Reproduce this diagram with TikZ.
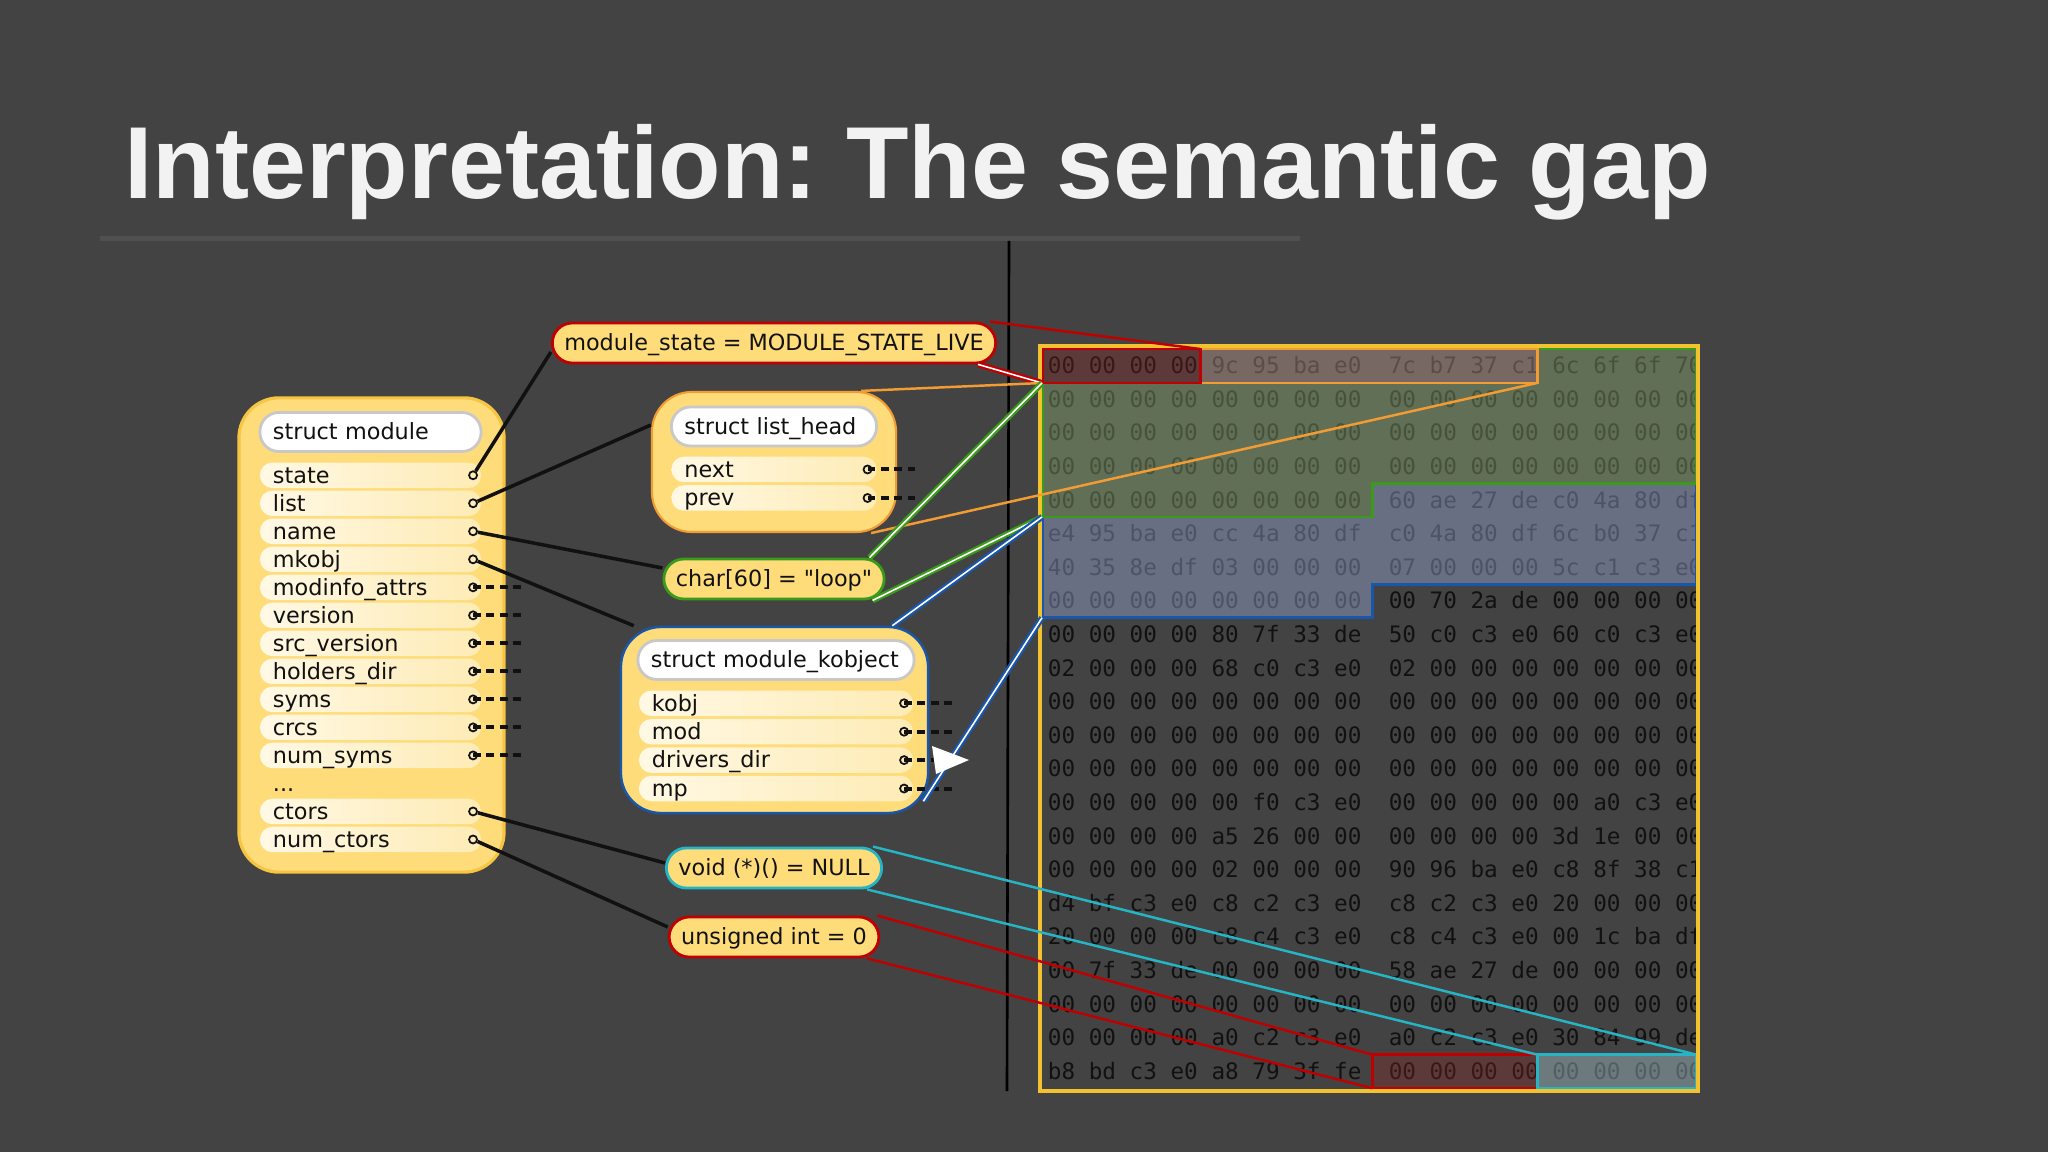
\documentclass[tikz,border=0pt]{standalone}
\usepackage{fontspec}
\setmainfont{DejaVu Sans}[Ligatures=TeXOff]
\setmonofont{DejaVu Sans Mono}
\newfontfamily\titlefont{Liberation Sans}
\usetikzlibrary{positioning}

\definecolor{slidebg}{RGB}{67,67,67}
\definecolor{titlegray}{RGB}{242,242,242}
\definecolor{ruleline}{RGB}{80,80,80}
\definecolor{boxyellow}{RGB}{255,220,122}
\definecolor{boxedge}{RGB}{246,198,66}
\definecolor{pillleft}{RGB}{255,248,228}
\definecolor{pillright}{RGB}{254,236,182}
\definecolor{headedge}{RGB}{200,200,200}
\definecolor{inkblack}{RGB}{17,17,17}
\definecolor{hexred}{RGB}{192,0,0}
\definecolor{hexorange}{RGB}{243,156,52}
\definecolor{hexgreen}{RGB}{58,154,26}
\definecolor{hexblue}{RGB}{26,86,170}
\definecolor{hexcyan}{RGB}{38,181,197}
\definecolor{hexframe}{RGB}{242,194,48}
\definecolor{tintred}{RGB}{150,40,40}
\definecolor{tintorange}{RGB}{185,150,140}
\definecolor{tintgreen}{RGB}{135,165,110}
\definecolor{tintblue}{RGB}{150,165,210}
\definecolor{tintcyan}{RGB}{160,190,200}

\newcommand\fieldfont{\fontsize{6.35pt}{7.5pt}\selectfont}
\newcommand\hexfont{\ttfamily\fontsize{6.44pt}{7.5pt}\selectfont}

\tikzset{
  titletext/.style={
    anchor=base west,
    inner sep=0pt,
    text=titlegray,
    font=\titlefont\bfseries\fontsize{29.1pt}{35pt}\selectfont
  },
  structbox/.style={
    fill=boxyellow,
    line width=0.9pt,
    rounded corners=0.4cm,
    inner sep=0pt
  },
  headpill/.style={
    draw=headedge,
    fill=white,
    line width=0.8pt,
    rounded corners=0.19cm,
    align=left,
    text width=#1,
    minimum height=0.39cm,
    inner xsep=0.13cm,
    inner ysep=0pt,
    outer sep=0pt,
    text height=0.2cm,
    text depth=0.045cm,
    font=\fieldfont,
    text=inkblack
  },
  fieldtext/.style={
    align=left,
    text width=#1,
    inner xsep=0.13cm,
    inner ysep=0.005cm,
    outer sep=0pt,
    text height=0.2cm,
    text depth=0.045cm,
    font=\fieldfont,
    text=inkblack
  },
  fieldpill/.style={
    fieldtext=#1,
    left color=pillleft,
    right color=pillright,
    rounded corners=0.125cm
  },
  valpill/.style={
    fill=boxyellow,
    line width=0.8pt,
    rounded corners=0.2cm,
    minimum height=0.4cm,
    inner xsep=0.12cm,
    inner ysep=0pt,
    text height=0.2cm,
    text depth=0.045cm,
    font=\fieldfont,
    text=inkblack
  },
  port/.style={
    circle,
    draw=inkblack,
    fill=pillright,
    line width=0.5pt,
    inner sep=0pt,
    minimum size=0.08cm
  },
  stub/.style={
    draw=inkblack,
    line width=1.15pt,
    dash pattern=on 2.2pt off 1.6pt
  },
  link/.style={
    draw=inkblack,
    line width=1pt
  },
  thinlink/.style={
    line width=0.7pt
  },
  dlink/.style={
    double=white,
    line width=0.62pt,
    double distance=0.45pt
  },
  hexrow/.style={
    anchor=base west,
    inner sep=0pt,
    text=inkblack,
    font=\hexfont
  },
  region/.style={
    line width=0.85pt,
    fill opacity=0.45
  }
}

\begin{document}
\begin{tikzpicture}[x=0.01cm, y=-0.01cm]
  \useasboundingbox (0,0) rectangle (2048,1152);
  \fill[slidebg] (0,0) rectangle (2048,1152);

  % title
  \node[titletext] (title) at (123.5,198.5) {\frenchspacing Interpretation: The semantic gap};
  \fill[ruleline] (100,236) rectangle (1300,241);
  \draw[black, line width=0.75pt] (1009,241) -- (1007,1091);

  % memory dump
  \coordinate (rowtl) at (1042,383);
  \coordinate (redtr) at (1200,349);
  \coordinate (orangebr) at (1537,383);
  \coordinate (greenbl) at (1042,517);
  \coordinate (bluebl) at (1042,617.8);
  \coordinate (lastredtl) at (1372,1054.6);
  \coordinate (lastredbl) at (1372,1088.2);
  \coordinate (cyantl) at (1537,1054.6);
  \coordinate (cyantr) at (1696,1054.6);

  \begin{scope}
    \clip (1040,346) rectangle (1697,1091);
    \node[hexrow] (h1) at (1047.2,373.7) {00 00 00 00 9c 95 ba e0~ 7c b7 37 c1 6c 6f 6f 70};
    \node[hexrow] (h2) at (1047.2,407.3) {00 00 00 00 00 00 00 00~ 00 00 00 00 00 00 00 00};
    \node[hexrow] (h3) at (1047.2,440.9) {00 00 00 00 00 00 00 00~ 00 00 00 00 00 00 00 00};
    \node[hexrow] (h4) at (1047.2,474.5) {00 00 00 00 00 00 00 00~ 00 00 00 00 00 00 00 00};
    \node[hexrow] (h5) at (1047.2,508.1) {00 00 00 00 00 00 00 00~ 60 ae 27 de c0 4a 80 df};
    \node[hexrow] (h6) at (1047.2,541.7) {e4 95 ba e0 cc 4a 80 df~ c0 4a 80 df 6c b0 37 c1};
    \node[hexrow] (h7) at (1047.2,575.3) {40 35 8e df 03 00 00 00~ 07 00 00 00 5c c1 c3 e0};
    \node[hexrow] (h8) at (1047.2,608.9) {00 00 00 00 00 00 00 00~ 00 70 2a de 00 00 00 00};
    \node[hexrow] (h9) at (1047.2,642.5) {00 00 00 00 80 7f 33 de~ 50 c0 c3 e0 60 c0 c3 e0};
    \node[hexrow] (h10) at (1047.2,676.1) {02 00 00 00 68 c0 c3 e0~ 02 00 00 00 00 00 00 00};
    \node[hexrow] (h11) at (1047.2,709.7) {00 00 00 00 00 00 00 00~ 00 00 00 00 00 00 00 00};
    \node[hexrow] (h12) at (1047.2,743.3) {00 00 00 00 00 00 00 00~ 00 00 00 00 00 00 00 00};
    \node[hexrow] (h13) at (1047.2,776.9) {00 00 00 00 00 00 00 00~ 00 00 00 00 00 00 00 00};
    \node[hexrow] (h14) at (1047.2,810.5) {00 00 00 00 00 f0 c3 e0~ 00 00 00 00 00 a0 c3 e0};
    \node[hexrow] (h15) at (1047.2,844.1) {00 00 00 00 a5 26 00 00~ 00 00 00 00 3d 1e 00 00};
    \node[hexrow] (h16) at (1047.2,877.7) {00 00 00 00 02 00 00 00~ 90 96 ba e0 c8 8f 38 c1};
    \node[hexrow] (h17) at (1047.2,911.3) {d4 bf c3 e0 c8 c2 c3 e0~ c8 c2 c3 e0 20 00 00 00};
    \node[hexrow] (h18) at (1047.2,944.9) {20 00 00 00 c8 c4 c3 e0~ c8 c4 c3 e0 00 1c ba df};
    \node[hexrow] (h19) at (1047.2,978.5) {00 7f 33 de 00 00 00 00~ 58 ae 27 de 00 00 00 00};
    \node[hexrow] (h20) at (1047.2,1012.1) {00 00 00 00 00 00 00 00~ 00 00 00 00 00 00 00 00};
    \node[hexrow] (h21) at (1047.2,1045.7) {00 00 00 00 a0 c2 c3 e0~ a0 c2 c3 e0 30 84 99 de};
    \node[hexrow] (h22) at (1047.2,1079.3) {b8 bd c3 e0 a8 79 3f fe~ 00 00 00 00 00 00 00 00};
  \end{scope}

  \filldraw[region, draw=hexblue, fill=tintblue] (1372,483.4) -- (1696,483.4) -- (1696,584.2) -- (1372,584.2) -- (1372,617.8) -- (bluebl) -- (greenbl) -- (1372,517) -- cycle;
  \filldraw[region, draw=hexgreen, fill=tintgreen] (1537,349) -- (1696,349) -- (1696,483.4) -- (1372,483.4) -- (1372,517) -- (greenbl) -- (rowtl) -- (orangebr) -- cycle;
  \filldraw[region, draw=hexorange, fill=tintorange] (redtr) rectangle (orangebr);
  \filldraw[region, draw=hexred, fill=tintred, fill opacity=0.3] (1042,349) rectangle (1200,383);
  \filldraw[region, draw=hexred, fill=tintred, fill opacity=0.3] (lastredtl) rectangle (1537,1088.2);
  \filldraw[region, draw=hexcyan, fill=tintcyan] (cyantl) rectangle (1696,1088.2);
  \draw[hexframe, line width=1.1pt] (1040,346) rectangle (1698,1091);

  % struct module
  \node[structbox, draw=boxedge, minimum width=2.65cm, minimum height=4.74cm] (modbox) at (371.5,635) {};
  \node[headpill=1.95cm] (modhead) at (370.5,432) {struct module};
  \node[fieldpill=1.95cm, below=0.11cm of modhead] (fstate) {state};
  \node[fieldpill=1.95cm, below=0.025cm of fstate] (flist) {list};
  \node[fieldpill=1.95cm, below=0.025cm of flist] (fname) {name};
  \node[fieldpill=1.95cm, below=0.025cm of fname] (fmkobj) {mkobj};
  \node[fieldpill=1.95cm, below=0.025cm of fmkobj] (fmodinfo) {modinfo\_attrs};
  \node[fieldpill=1.95cm, below=0.025cm of fmodinfo] (fversion) {version};
  \node[fieldpill=1.95cm, below=0.025cm of fversion] (fsrcversion) {src\_version};
  \node[fieldpill=1.95cm, below=0.025cm of fsrcversion] (fholders) {holders\_dir};
  \node[fieldpill=1.95cm, below=0.025cm of fholders] (fsyms) {syms};
  \node[fieldpill=1.95cm, below=0.025cm of fsyms] (fcrcs) {crcs};
  \node[fieldpill=1.95cm, below=0.025cm of fcrcs] (fnumsyms) {num\_syms};
  \node[fieldtext=1.95cm, below=0.025cm of fnumsyms] (fdots) {...};
  \node[fieldpill=1.95cm, below=0.025cm of fdots] (fctors) {ctors};
  \node[fieldpill=1.95cm, below=0.025cm of fctors] (fnumctors) {num\_ctors};

  \node[port] (pstate) at ([xshift=-0.08cm]fstate.east) {};
  \node[port] (plist) at ([xshift=-0.08cm]flist.east) {};
  \node[port] (pname) at ([xshift=-0.08cm]fname.east) {};
  \node[port] (pmkobj) at ([xshift=-0.08cm]fmkobj.east) {};
  \node[port] (pmodinfo) at ([xshift=-0.08cm]fmodinfo.east) {};
  \node[port] (pversion) at ([xshift=-0.08cm]fversion.east) {};
  \node[port] (psrcversion) at ([xshift=-0.08cm]fsrcversion.east) {};
  \node[port] (pholders) at ([xshift=-0.08cm]fholders.east) {};
  \node[port] (psyms) at ([xshift=-0.08cm]fsyms.east) {};
  \node[port] (pcrcs) at ([xshift=-0.08cm]fcrcs.east) {};
  \node[port] (pnumsyms) at ([xshift=-0.08cm]fnumsyms.east) {};
  \node[port] (pctors) at ([xshift=-0.08cm]fctors.east) {};
  \node[port] (pnumctors) at ([xshift=-0.08cm]fnumctors.east) {};

  \draw[stub] (pmodinfo.center) -- ++(53,0);
  \draw[stub] (pversion.center) -- ++(53,0);
  \draw[stub] (psrcversion.center) -- ++(53,0);
  \draw[stub] (pholders.center) -- ++(53,0);
  \draw[stub] (psyms.center) -- ++(53,0);
  \draw[stub] (pcrcs.center) -- ++(53,0);
  \draw[stub] (pnumsyms.center) -- ++(53,0);

  % struct list_head
  \node[structbox, draw=hexorange, line width=0.6pt, minimum width=2.44cm, minimum height=1.40cm] (lhbox) at (774,462) {};
  \node[headpill=1.79cm] (lhhead) at (774,426.5) {struct list\_head};
  \node[fieldpill=1.79cm, below=0.107cm of lhhead] (lnext) {next};
  \node[fieldpill=1.79cm, below=0.03cm of lnext] (lprev) {prev};
  \node[port] (pnext) at ([xshift=-0.09cm]lnext.east) {};
  \node[port] (pprev) at ([xshift=-0.09cm]lprev.east) {};
  \draw[stub] (pnext.center) -- ++(53,0);
  \draw[stub] (pprev.center) -- ++(53,0);

  % struct module_kobject
  \node[structbox, draw=hexblue, line width=0.7pt, minimum width=3.07cm, minimum height=1.86cm] (kob) at (774.5,720) {};
  \node[headpill=2.50cm] (kobhead) at (776,660) {struct module\_kobject};
  \node[fieldpill=2.48cm, below=0.11cm of kobhead] (kkobj) {kobj};
  \node[fieldpill=2.48cm, below=0.029cm of kkobj] (kmod) {mod};
  \node[fieldpill=2.48cm, below=0.029cm of kmod] (kdrivers) {drivers\_dir};
  \node[fieldpill=2.48cm, below=0.029cm of kdrivers] (kmp) {mp};
  \node[port] (pkobj) at ([xshift=-0.09cm]kkobj.east) {};
  \node[port] (pmod) at ([xshift=-0.09cm]kmod.east) {};
  \node[port] (pdrivers) at ([xshift=-0.09cm]kdrivers.east) {};
  \node[port] (pmp) at ([xshift=-0.09cm]kmp.east) {};
  \draw[stub] (pkobj.center) -- ++(53,0);
  \draw[stub] (pmod.center) -- ++(53,0);
  \draw[stub] (pdrivers.center) -- ++(53,0);
  \draw[stub] (pmp.center) -- ++(53,0);

  % values
  \node[valpill, draw=hexred] (ms) at (774,343) {module\_state = MODULE\_STATE\_LIVE};
  \node[valpill, draw=hexgreen] (chr) at (774,579) {char[60] = "loop"};
  \node[valpill, draw=hexcyan] (vd) at (774,868) {void (*)() = NULL};
  \node[valpill, draw=hexred] (ui) at (774,937) {unsigned int = 0};

  \draw[link] (pstate) -- ([yshift=-0.09cm]ms.west);
  \draw[link] (plist) -- ([yshift=0.37cm]lhbox.west);
  \draw[link] (pname) -- ([yshift=0.11cm]chr.west);
  \draw[link] (pmkobj) -- ([xshift=0.14cm]kob.north west);
  \draw[link] (pctors) -- ([yshift=0.05cm]vd.west);
  \draw[link] (pnumctors) -- ([yshift=0.1cm]ui.west);

  % links into the dump
  \draw[thinlink, hexred] ([xshift=-0.07cm]ms.north east) -- (redtr);
  \draw[dlink, hexred] ([xshift=-0.19cm]ms.south east) -- (rowtl);
  \draw[thinlink, hexorange] ([xshift=-0.36cm]lhbox.north east) -- (rowtl);
  \draw[thinlink, hexorange] ([xshift=-0.26cm]lhbox.south east) -- (orangebr);
  \draw[dlink, hexgreen] ([xshift=-0.16cm]chr.north east) -- (rowtl);
  \draw[dlink, hexgreen] ([xshift=-0.13cm]chr.south east) -- (greenbl);
  \draw[dlink, hexblue] ([xshift=-0.37cm]kob.north east) -- (greenbl);
  \draw[dlink, hexblue] (bluebl) -- ([xshift=-0.06cm, yshift=0.13cm]kob.south east);
  \draw[thinlink, hexcyan] ([xshift=-0.1cm]vd.north east) -- (cyantr);
  \draw[thinlink, hexcyan] ([xshift=-0.16cm]vd.south east) -- (cyantl);
  \draw[thinlink, hexred] ([xshift=-0.03cm]ui.north east) -- (lastredtl);
  \draw[thinlink, hexred] ([xshift=-0.13cm]ui.south east) -- (lastredbl);

  \fill[white] (932,746) -- (969,760) -- (936,774) -- cycle;
\end{tikzpicture}
\end{document}
